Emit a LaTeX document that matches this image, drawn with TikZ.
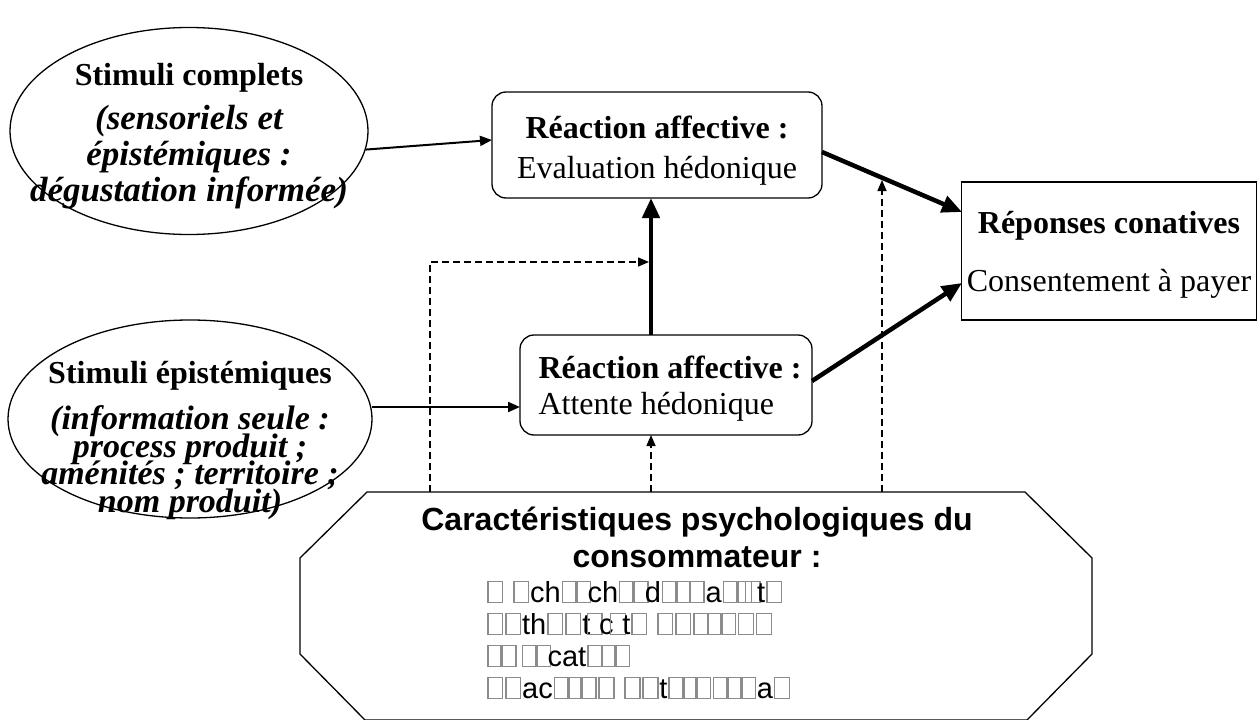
\documentclass[tikz,border=0pt]{standalone}
\usepackage{fontspec}
\setmainfont{Liberation Serif}
\newfontfamily\arialfont{Liberation Sans}
\usetikzlibrary{arrows.meta,shapes.geometric}
% placeholder rectangles for glyphs the font could not show
\newcommand\missingglyph[1][0.62em]{\makebox[#1]{\color{black!45}\setlength\fboxsep{0pt}\setlength\fboxrule{0.05em}\fbox{\rule{0pt}{0.68em}\hspace{0.46em}}}}
\newcommand\gbx{\missingglyph}
\newcommand\gnr{\missingglyph[0.3em]}
\newcommand\tightlines{\lineskiplimit=-50pt\relax}
\tikzset{
  shapeline/.style={draw=black, line width=1.3pt},
  rbox/.style={shapeline, rounded corners=14pt},
  tfont/.style={font=\fontsize{32}{36}\selectfont},
  headfont/.style={font=\arialfont\bfseries\fontsize{32}{36}\selectfont, inner sep=0pt, anchor=base},
  garbled/.style={font=\arialfont\fontsize{29}{32}\selectfont, inner sep=0pt, anchor=base west},
  thin/.style={line width=2pt, -{Triangle[length=12pt,width=10pt]}},
  thick/.style={line width=4.5pt, -{Triangle[length=20pt,width=17pt]}},
  dashline/.style={line width=1.5pt, dash pattern=on 7pt off 4pt, -{Triangle[length=11pt,width=9pt]}},
}
\begin{document}
\begin{tikzpicture}[x=1pt,y=-1pt]
\useasboundingbox (0,0) rectangle (1259,720);

% left ellipses
\node[shapeline, ellipse, minimum width=358pt, minimum height=207pt] (e1) at (189,131) {};
\node[shapeline, ellipse, minimum width=364pt, minimum height=198pt] (e2) at (190,419) {};
\node[align=center, inner sep=0pt, font=\fontsize{35}{36}\selectfont\bfseries\itshape] (t1) at (189,136) {%
  {\fontsize{32}{36}\selectfont\upshape Stimuli complets}\\[8pt]
  (sensoriels et\\ épistémiques :\\ dégustation informée)};
\node[align=center, inner sep=0pt, font=\fontsize{34}{27.5}\selectfont\bfseries\itshape\tightlines] (t2) at (190,440) {%
  {\fontsize{32}{36}\selectfont\upshape Stimuli épistémiques}\\[19pt]
  (information seule :\\ process produit ;\\ aménités ; territoire ;\\ nom produit)};

% affective reaction boxes
\node[rbox, minimum width=330pt, minimum height=106pt] (b1) at (657,145) {};
\node[tfont, align=center, inner sep=0pt] (t3) at ([yshift=-6pt]b1.center) {\textbf{Réaction affective :}\\[4pt] Evaluation hédonique};
\node[rbox, minimum width=292pt, minimum height=100pt] (b2) at (666,385) {};
\node[tfont, align=left, inner sep=0pt, anchor=west] (t4) at ([xshift=19pt,yshift=-4pt]b2.west) {\textbf{Réaction affective :}\\ Attente hédonique};

% conative responses
\node[shapeline, minimum width=295pt, minimum height=138pt] (b3) at (1109,251) {};
\node[tfont, align=center, inner sep=0pt] (t5) at ([yshift=-4pt]b3.center) {\textbf{Réponses conatives}\\[22pt] Consentement à payer};

% psychological characteristics (octagon, cut by the page bottom)
\coordinate (o1) at (367,492);
\coordinate (o2) at (1025,492);
\coordinate (o3) at (1092,558);
\coordinate (o4) at (1092,654);
\coordinate (o5) at (1027,720);
\coordinate (o6) at (365,720);
\coordinate (o7) at (300,654);
\coordinate (o8) at (300,558);
\begin{scope}
\clip (0,0) rectangle (1259,720);
\draw[shapeline, line join=miter] (o1) -- (o2) -- (o3) -- (o4) -- (o5) -- (o6) -- (o7) -- (o8) -- cycle;
\end{scope}
\node[headfont] (oh1) at (697,530) {Caractéristiques psychologiques du};
\node[headfont] (oh2) at (697,567) {consommateur :};
\node[garbled] (g1) at (486,602) {\gbx\ \gbx ch\gbx\gnr ch\gbx\gnr d\gbx\gnr\gbx a\gbx\gnr\gnr t\gbx};
\node[garbled] (g2) at (486,634) {\gbx\gbx th\gbx\gbx t\gnr c\gnr t\gbx\ \gbx\gbx\gbx\gnr\gbx\gbx\gbx};
\node[garbled] (g3) at (486,666) {\gbx\gnr\ \gbx\gnr cat\gbx\gnr\gbx};
\node[garbled] (g4) at (486,698) {\gbx\gbx ac\gbx\gnr\gbx\gbx\ \gbx\gbx t\gbx\gnr\gbx\gbx\gnr\gbx a\gbx};

% connector end points
\coordinate (d1) at (430,492);
\coordinate (d2) at (651,492);
\coordinate (d3) at (882,492);
\coordinate (k1) at (430,262);
\coordinate (k2) at (649,262);
\coordinate (k3) at (882,180);
\coordinate (a1) at (492,140);
\coordinate (a2s) at (372,407);
\coordinate (a2e) at (520,407);
\coordinate (v1) at (651,335);
\coordinate (v2) at (651,198);
\coordinate (v3) at (651,435);
\coordinate (r1s) at (822,152);
\coordinate (r1e) at (962,212);
\coordinate (r2s) at (812,381);
\coordinate (r2e) at (962,283);

% connectors
\draw[thin] (e1.-6) -- (a1);
\draw[thin] (a2s) -- (a2e);
\draw[thick] (v1) -- (v2);
\draw[thick] (r1s) -- (r1e);
\draw[thick] (r2s) -- (r2e);
\draw[dashline] (d1) -- (k1) -- (k2);
\draw[dashline] (d2) -- (v3);
\draw[dashline] (d3) -- (k3);
\end{tikzpicture}
\end{document}
